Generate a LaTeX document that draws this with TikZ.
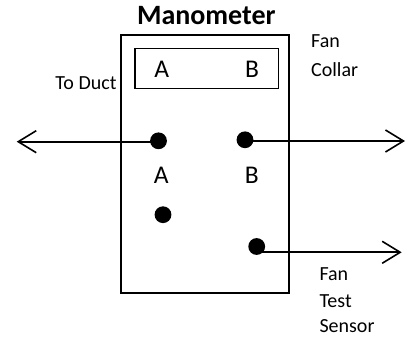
\documentclass[tikz,border=0pt]{standalone}
\usepackage{fontspec}
\setmainfont{Carlito}
\usetikzlibrary{arrows.meta}
\begin{document}
\begin{tikzpicture}[x=1pt,y=-1pt,
  lbl/.style={inner sep=0pt,font=\fontsize{20}{24}\selectfont},
  port/.style={inner sep=0pt,font=\fontsize{25.5}{29}\selectfont},
  dot/.style={circle,fill=black,inner sep=0pt,minimum size=16.8pt},
  box/.style={draw=black,line width=2pt},
  wire/.style={line width=1.8pt,-{Straight Barb[length=18pt,width=22pt,line width=1.6pt]}}]
\useasboundingbox (0,0) rectangle (414,339);
% boxes
\node[box,minimum width=168.3pt,minimum height=258pt,inner sep=0pt] (mano) at (205.15,164) {};
\node[draw=black,line width=1.4pt,minimum width=143.3pt,minimum height=40pt,inner sep=0pt] (disp) at (206.65,68.3) {};
% title
\node[inner sep=0pt,anchor=base,font=\fontsize{28}{32}\selectfont\bfseries] (title) at (206.3,25) {Manometer};
% display letters
\node[port,anchor=base] (dA) at (161.8,77.7) {A};
\node[port,anchor=base] (dB) at (252,77.5) {B};
% dots
\node[dot] (pA) at (158.5,140.8) {};
\node[dot] (pB) at (245,139.8) {};
\node[dot] (pC) at (163,214.7) {};
\node[dot] (pD) at (256.7,246.5) {};
% port letters
\node[port,anchor=base] (lA) at (161.3,183.3) {A};
\node[port,anchor=base] (lB) at (251.7,183.3) {B};
% side labels
\node[lbl,anchor=base east] (duct) at (116.7,90) {To Duct};
\node[lbl,anchor=base west] (fan1) at (311,47.3) {Fan};
\node[lbl,anchor=base west] (collar) at (311,76.7) {Collar};
\node[lbl,anchor=base west] (fan2) at (319.3,280.7) {Fan};
\node[lbl,anchor=base west] (test) at (319.3,307.3) {Test};
\node[lbl,anchor=base west] (sensor) at (319.3,332.7) {Sensor};
% arrow ends
\coordinate (eA) at (16.7,141.7);
\coordinate (eB) at (405,141);
\coordinate (eD) at (401.7,252.3);
% connectors
\draw[wire] ([yshift=-0.9pt]pA.center) -- (eA);
\draw[wire] ([yshift=-1.2pt]pB.center) -- (eB);
\draw[wire] ([yshift=-5.8pt]pD.center) -- (eD);
\end{tikzpicture}
\end{document}
